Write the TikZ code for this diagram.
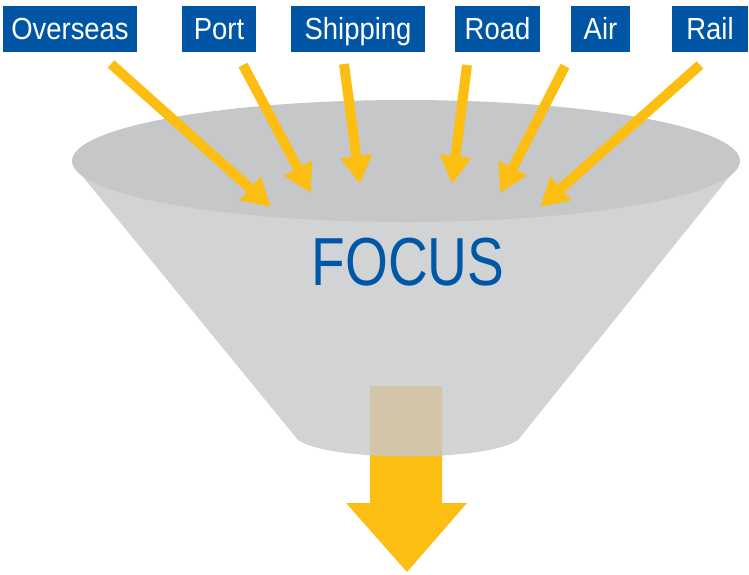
\documentclass[tikz,border=0pt]{standalone}
\usepackage{fontspec}
\usetikzlibrary{arrows.meta}
\newfontfamily\lblfont[FakeStretch=0.9]{Liberation Sans}
\newfontfamily\focusfont[FakeStretch=0.81]{Liberation Sans}
\definecolor{boxblue}{HTML}{0055A4}
\definecolor{focusblue}{HTML}{0057A8}
\definecolor{arrowyellow}{HTML}{FDBE14}
\definecolor{rimgray}{HTML}{C6C7C9}
\definecolor{bodygray}{HTML}{D1D3D4}
\definecolor{overlaytan}{HTML}{D3C5A9}
\tikzset{
  lbl/.style={fill=boxblue, text=white, font=\lblfont\fontsize{30.5}{32}\selectfont,
    text height=33pt, text depth=13pt, inner sep=0pt, anchor=center},
  inarrow/.style={draw=arrowyellow, line width=10pt, line cap=butt,
    -{Triangle[length=28pt,width=30pt]}},
}
\begin{document}
\begin{tikzpicture}[x=1pt,y=-1pt]
\useasboundingbox (0,0) rectangle (749,574);
% funnel body
\fill[bodygray] (74,166) -- (298,440) .. controls (330,462) and (486,462) .. (518,440) -- (738,166) -- cycle;
% funnel rim
\fill[rimgray] (406,161) ellipse [x radius=334, y radius=61];
% label nodes
\node[lbl, minimum width=134pt] (overseas) at (70,29) {Overseas};
\node[lbl, minimum width=74pt]  (port)     at (219,29) {Port};
\node[lbl, minimum width=134pt] (shipping) at (358,29) {Shipping};
\node[lbl, minimum width=85pt]  (road)     at (497.5,29) {Road};
\node[lbl, minimum width=59pt]  (air)      at (600.5,29) {Air};
\node[lbl, minimum width=76pt]  (rail)     at (710,29) {Rail};
% arrow ends
\coordinate (t1) at (111,64);  \coordinate (h1) at (271,207);
\coordinate (t2) at (243,65);  \coordinate (h2) at (311,193);
\coordinate (t3) at (344,64);  \coordinate (h3) at (360,184);
\coordinate (t4) at (467,65);  \coordinate (h4) at (452,184);
\coordinate (t5) at (565,66);  \coordinate (h5) at (500,193);
\coordinate (t6) at (700,65);  \coordinate (h6) at (540,207);
\foreach \i in {1,...,6}{\draw[inarrow] (t\i) -- (h\i);}
% focus text
\node[text=focusblue, font=\focusfont\fontsize{68}{70}\selectfont, inner sep=0pt] (focus) at (408,262) {FOCUS};
% output arrow
\fill[arrowyellow] (370,386) -- (442,386) -- (442,503) -- (467,503) -- (407,572) -- (346,503) -- (370,503) -- cycle;
\begin{scope}
\clip (74,166) -- (298,440) .. controls (330,462) and (486,462) .. (518,440) -- (738,166) -- cycle;
\fill[overlaytan] (370,386) rectangle (442,470);
\end{scope}
\end{tikzpicture}
\end{document}
